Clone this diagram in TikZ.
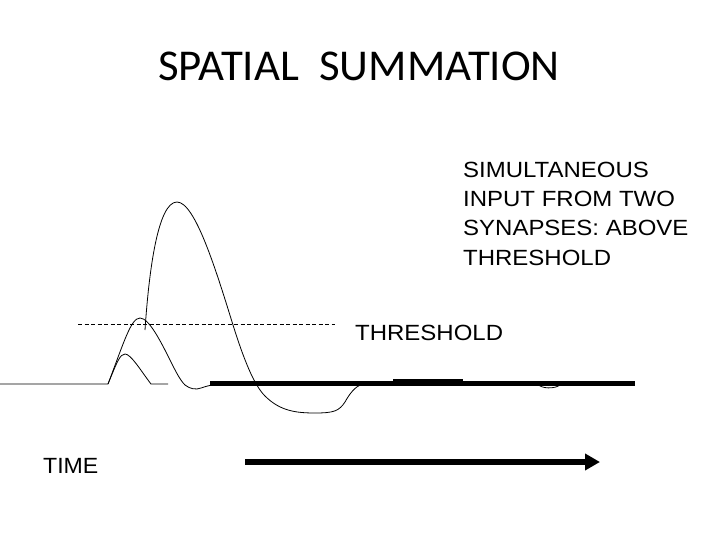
\documentclass[tikz,border=0pt]{standalone}
\usepackage{fontspec}
\setmainfont{Liberation Sans}
\newfontfamily\titlefont{Carlito}
\usetikzlibrary{arrows.meta}
\begin{document}
\begin{tikzpicture}[x=1pt,y=-1pt,
  trace/.style={line width=0.8pt,line join=round},
  lbl/.style={inner sep=0pt,anchor=base west,font=\fontsize{22}{29.3}\selectfont}]
\useasboundingbox (0,0) rectangle (720,540);
% title
\node[inner sep=0pt,anchor=base] (title) at (359,81) {\titlefont\fontsize{44}{50}\selectfont\scalebox{1.02}[1]{SPATIAL\ \ SUMMATION}};
% right label
\node[lbl] (l1) at (463,177.5) {\scalebox{1.09}[1]{SIMULTANEOUS}};
\node[lbl] (l2) at (463,206.8) {\scalebox{1.09}[1]{INPUT FROM TWO}};
\node[lbl] (l3) at (463,236) {\scalebox{1.09}[1]{SYNAPSES: ABOVE}};
\node[lbl] (l4) at (463,265) {\scalebox{1.09}[1]{THRESHOLD}};
\node[lbl] (thr) at (355,340) {\scalebox{1.09}[1]{THRESHOLD}};
\node[lbl] (time) at (43,473) {\scalebox{1.05}[1]{TIME}};
% threshold dashed line
\draw[line width=0.7pt,dash pattern=on 4pt off 2.5pt] (78,324) -- (335,324);
% small EPSP
\draw[trace] (0,384) -- (108,384) .. controls (117,362) and (120,354) .. (125,354)
  .. controls (131,354) and (141,371) .. (151,384) -- (168,384);
% summed EPSP
\draw[trace] (108,384) .. controls (124,342) and (131,318) .. (140,318)
  .. controls (149,318) and (161,342) .. (170,360)
  .. controls (176,372) and (180,380) .. (185,385)
  .. controls (190,389) and (196,390) .. (201,388)
  .. controls (204,387) and (207,386) .. (212,385);
% action potential
\draw[trace] (145,330) .. controls (149,270) and (158,202) .. (177,202)
  .. controls (195,202) and (216,270) .. (233,325)
  .. controls (244,360) and (254,385) .. (265,396)
  .. controls (280,411) and (296,413) .. (315,413)
  .. controls (334,413) and (339,411) .. (345,402)
  .. controls (350,393) and (355,387) .. (362,384);
% thick baseline
\draw[line width=5.5pt] (210,383.5) -- (635,383.5);
\fill (393,379) rectangle (463,383);
\draw[line width=0.8pt] (538,384) .. controls (541,389) and (555,389) .. (560,385);
% time arrow
\draw[line width=6pt,-{Triangle[length=15pt,width=16pt]}] (245,462) -- (600,462);
\end{tikzpicture}
\end{document}
